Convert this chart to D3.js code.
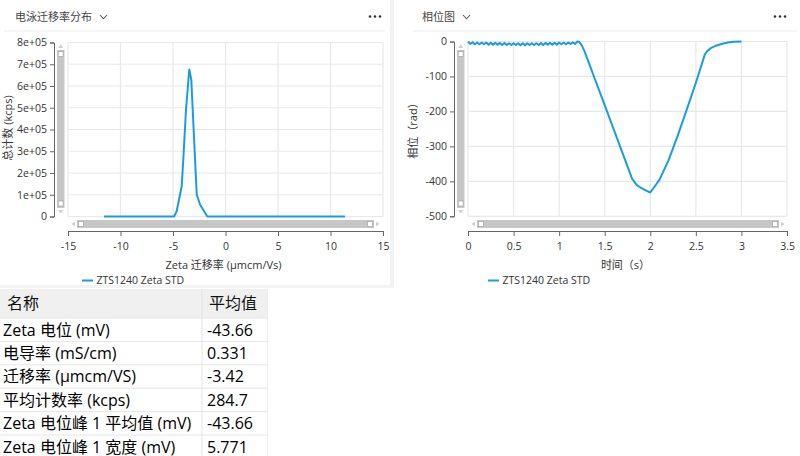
<!DOCTYPE html>
<html>
<head>
<meta charset="utf-8">
<script src="https://cdn.jsdelivr.net/npm/d3@7"></script>
<style>
html,body{margin:0;padding:0;background:#fff;}
svg{display:block;font-family:"Open Sans","Noto Sans CJK SC",sans-serif;}
</style>
</head>
<body>
<svg id="c" width="800" height="456"></svg>
<script>
// ---------- DATA ----------
const leftTitle = "电泳迁移率分布";
const rightTitle = "相位图";
const seriesName = "ZTS1240 Zeta STD";

// Zeta mobility distribution
const mobility = [-11.57, -4.90, -4.65, -4.17, -4.02, -3.76, -3.45, -3.26, -2.74, -2.43, -1.73, 11.38];
const counts   = [0, 0, 24000, 139000, 262000, 492000, 676000, 630000, 101000, 55000, 0, 0];
const leftXTicks = [-15, -10, -5, 0, 5, 10, 15];
const leftYTicks = [0, 100000, 200000, 300000, 400000, 500000, 600000, 700000, 800000];
const leftYTickLabels = ["0", "1e+05", "2e+05", "3e+05", "4e+05", "5e+05", "6e+05", "7e+05", "8e+05"];
const leftXLabel = "Zeta 迁移率 (μmcm/Vs)";
const leftYLabel = "总计数 (kcps)";

// Phase plot
const time = [0, 0.025, 0.05, 0.075, 0.1, 0.125, 0.15, 0.175, 0.2, 0.225, 0.25, 0.275, 0.3, 0.325, 0.35, 0.375,
  0.4, 0.425, 0.45, 0.475, 0.5, 0.525, 0.55, 0.575, 0.6, 0.625, 0.65, 0.675, 0.7, 0.725, 0.75, 0.775,
  0.8, 0.825, 0.85, 0.875, 0.9, 0.925, 0.95, 0.975, 1.0, 1.025, 1.05, 1.075, 1.1, 1.125, 1.15, 1.175,
  1.2, 1.22, 1.25, 1.28, 1.32, 1.40, 1.50, 1.60, 1.70, 1.80, 1.85, 1.90, 1.95, 2.00, 2.05, 2.10, 2.20, 2.30,
  2.40, 2.50, 2.60, 2.63, 2.67, 2.72, 2.78, 2.85, 2.92, 3.00];
const phase = [0, -7, -2, -8, -3, -8, -3, -8, -3, -9, -4, -9, -4, -9, -4, -10,
  -4, -10, -5, -10, -5, -10, -5, -11, -5, -11, -5, -10, -5, -10, -5, -10,
  -4, -10, -4, -9, -4, -9, -4, -9, -3, -8, -3, -8, -3, -7, -2, -7,
  0, -1, -12, -29, -57, -113, -182, -252, -322, -392, -410, -419, -426, -432, -414, -396, -340, -270,
  -195, -118, -36, -26, -18, -12, -7, -3, -1, 0];
const rightXTicks = [0, 0.5, 1, 1.5, 2, 2.5, 3, 3.5];
const rightXTickLabels = ["0", "0.5", "1", "1.5", "2", "2.5", "3", "3.5"];
const rightYTicks = [0, -100, -200, -300, -400, -500];
const rightXLabel = "时间（s）";
const rightYLabel = "相位（rad）";

// Results table
const tableHeader = ["名称", "平均值"];
const tableNames = ["Zeta 电位 (mV)", "电导率 (mS/cm)", "迁移率 (μmcm/VS)", "平均计数率 (kcps)", "Zeta 电位峰 1 平均值 (mV)", "Zeta 电位峰 1 宽度 (mV)"];
const tableValues = ["-43.66", "0.331", "-3.42", "284.7", "-43.66", "5.771"];

// ---------- DRAW ----------
const svg = d3.select("#c");
const BLUE = "#1a9de0";
const GRID = "#e8e8e8";
const TXT = "#333";

// panel separators
svg.append("rect").attr("x", 390).attr("y", 0).attr("width", 4).attr("height", 286).attr("fill", "#f2f2f2");
svg.append("rect").attr("x", 0).attr("y", 285).attr("width", 394).attr("height", 3).attr("fill", "#f4f4f4");

function header(x0, x1, title, chevX) {
  svg.append("text").attr("x", x0).attr("y", 21).attr("font-size", 11).attr("fill", "#444").text(title);
  svg.append("path").attr("d", `M${chevX},15 L${chevX + 3.5},18.8 L${chevX + 7},15`)
    .attr("fill", "none").attr("stroke", "#555").attr("stroke-width", 1.1);
  const dotsX = x1 - 22;
  [0, 5, 10].forEach(d => svg.append("circle").attr("cx", dotsX + d).attr("cy", 16.5).attr("r", 1.3).attr("fill", "#333"));
}

function chart(opt) {
  const { x, y, xTicks, xTickLabels, yTicks, yTickLabels, xLabel, yLabel, data, curve, legendX, yLabelX, vbarX, hbar } = opt;
  const g = svg.append("g");
  const [X0, X1] = x.range();
  const [Y0, Y1] = [y.range()[0], y.range()[1]];
  // grid
  g.selectAll(".vg").data(xTicks).join("line")
    .attr("x1", d => x(d)).attr("x2", d => x(d)).attr("y1", Math.min(Y0, Y1)).attr("y2", Math.max(Y0, Y1))
    .attr("stroke", GRID).attr("stroke-width", 1.2);
  g.selectAll(".hg").data(yTicks).join("line")
    .attr("y1", d => y(d)).attr("y2", d => y(d)).attr("x1", X0).attr("x2", X1)
    .attr("stroke", GRID).attr("stroke-width", 1.2);
  // line
  const line = d3.line().curve(curve).x(d => x(d[0])).y(d => y(d[1]));
  g.append("path").datum(data).attr("d", line).attr("fill", "none")
    .attr("stroke", BLUE).attr("stroke-width", 2).attr("stroke-linejoin", "round");
  // y axis
  const ya = d3.axisLeft(y).tickValues(yTicks).tickSize(4).tickPadding(3)
    .tickFormat((d, i) => yTickLabels[i]);
  const yg = g.append("g").attr("transform", `translate(${X0 - 14},0)`).call(ya);
  // x axis
  const xa = d3.axisBottom(x).tickValues(xTicks).tickSize(5).tickPadding(7)
    .tickFormat((d, i) => xTickLabels[i]);
  const xg = g.append("g").attr("transform", `translate(0,231)`).call(xa);
  [yg, xg].forEach(a => {
    a.selectAll("path,line").attr("stroke", "#666");
    a.selectAll("text").attr("fill", "#333").attr("font-size", 10.5).attr("font-family", "'Open Sans',sans-serif");
  });
  // vertical scrollbar
  const vb = g.append("g");
  vb.append("rect").attr("x", vbarX).attr("y", 50).attr("width", 7.5).attr("height", 158).attr("fill", "#c6c6c6");
  vb.append("rect").attr("x", vbarX + 1.2).attr("y", 51.5).attr("width", 5).attr("height", 5).attr("fill", "#fff").attr("stroke", "#aaa").attr("stroke-width", 0.8);
  vb.append("rect").attr("x", vbarX + 1.2).attr("y", 201).attr("width", 5).attr("height", 5).attr("fill", "#fff").attr("stroke", "#aaa").attr("stroke-width", 0.8);
  vb.append("path").attr("d", `M${vbarX + 1.2},48 L${vbarX + 3.75},44.5 L${vbarX + 6.3},48Z`).attr("fill", "#d0d0d0");
  vb.append("path").attr("d", `M${vbarX + 1.2},210 L${vbarX + 3.75},213.5 L${vbarX + 6.3},210Z`).attr("fill", "#d0d0d0");
  // horizontal scrollbar
  const [hx0, hx1] = hbar;
  vb.append("rect").attr("x", hx0).attr("y", 220).attr("width", hx1 - hx0).attr("height", 8).attr("fill", "#c6c6c6");
  vb.append("rect").attr("x", hx0 + 1.5).attr("y", 221.5).attr("width", 5).attr("height", 5).attr("fill", "#fff").attr("stroke", "#aaa").attr("stroke-width", 0.8);
  vb.append("rect").attr("x", hx1 - 6.5).attr("y", 221.5).attr("width", 5).attr("height", 5).attr("fill", "#fff").attr("stroke", "#aaa").attr("stroke-width", 0.8);
  vb.append("path").attr("d", `M${hx0 - 2},221.5 L${hx0 - 5.5},224 L${hx0 - 2},226.5Z`).attr("fill", "#d0d0d0");
  vb.append("path").attr("d", `M${hx1 + 2},221.5 L${hx1 + 5.5},224 L${hx1 + 2},226.5Z`).attr("fill", "#d0d0d0");
  // axis titles
  g.append("text").attr("x", (X0 + X1) / 2 - 2).attr("y", 269).attr("text-anchor", "middle")
    .attr("font-size", 11).attr("fill", TXT).text(xLabel);
  g.append("text").attr("transform", `translate(${yLabelX},128) rotate(-90)`).attr("text-anchor", "middle")
    .attr("font-size", 11).attr("fill", TXT).text(yLabel);
  // legend
  g.append("line").attr("x1", legendX).attr("x2", legendX + 11).attr("y1", 280.5).attr("y2", 280.5)
    .attr("stroke", BLUE).attr("stroke-width", 2);
  g.append("text").attr("x", legendX + 14.5).attr("y", 284).attr("font-size", 10.5).attr("fill", TXT).text(seriesName);
}

// left panel
header(15, 392, leftTitle, 100);
svg.append("line").attr("x1", 4).attr("x2", 385).attr("y1", 31).attr("y2", 31).attr("stroke", "#ececec");
chart({
  x: d3.scaleLinear([-15, 15], [68, 383]),
  y: d3.scaleLinear([0, 800000], [216.5, 42.5]),
  xTicks: leftXTicks, xTickLabels: leftXTicks.map(String),
  yTicks: leftYTicks, yTickLabels: leftYTickLabels,
  xLabel: leftXLabel, yLabel: leftYLabel,
  data: mobility.map((m, i) => [m, counts[i]]), curve: d3.curveLinear,
  legendX: 82, yLabelX: 12, vbarX: 57, hbar: [77, 374]
});

// right panel
header(422, 797, rightTitle, 463);
svg.append("line").attr("x1", 413).attr("x2", 797).attr("y1", 31).attr("y2", 31).attr("stroke", "#ececec");
chart({
  x: d3.scaleLinear([0, 3.5], [468, 787]),
  y: d3.scaleLinear([-500, 0], [216.3, 41.5]),
  xTicks: rightXTicks, xTickLabels: rightXTickLabels,
  yTicks: rightYTicks, yTickLabels: rightYTicks.map(String),
  xLabel: rightXLabel, yLabel: rightYLabel,
  data: time.map((t, i) => [t, phase[i]]), curve: d3.curveLinear,
  legendX: 488, yLabelX: 417, vbarX: 457, hbar: [477, 779]
});

// table
const rowY = d3.scaleLinear([0, 1], [318, 341.4]);
const tg = svg.append("g");
tg.append("rect").attr("x", 0).attr("y", 289).attr("width", 268).attr("height", 29).attr("fill", "#f0f0f0");
tg.append("line").attr("x1", 202).attr("x2", 202).attr("y1", 289).attr("y2", 456).attr("stroke", "#e3e3e3");
tg.append("line").attr("x1", 267.5).attr("x2", 267.5).attr("y1", 289).attr("y2", 456).attr("stroke", "#ececec");
tg.append("text").attr("x", 7).attr("y", 309).attr("font-size", 16).attr("fill", "#111").text(tableHeader[0]);
tg.append("text").attr("x", 209).attr("y", 309).attr("font-size", 16).attr("fill", "#111").text(tableHeader[1]);
tg.selectAll(".rl").data(d3.range(tableNames.length + 1)).join("line")
  .attr("x1", 0).attr("x2", 268).attr("y1", d => rowY(d)).attr("y2", d => rowY(d)).attr("stroke", "#e6e6e6");
tg.selectAll(".rn").data(tableNames).join("text")
  .attr("x", 3).attr("y", (d, i) => rowY(i) + 17.5).attr("font-size", 16).attr("fill", "#000").text(d => d);
tg.selectAll(".rv").data(tableValues).join("text")
  .attr("x", 207).attr("y", (d, i) => rowY(i) + 17.5).attr("font-size", 16).attr("fill", "#000").text(d => d);
</script>
</body>
</html>
